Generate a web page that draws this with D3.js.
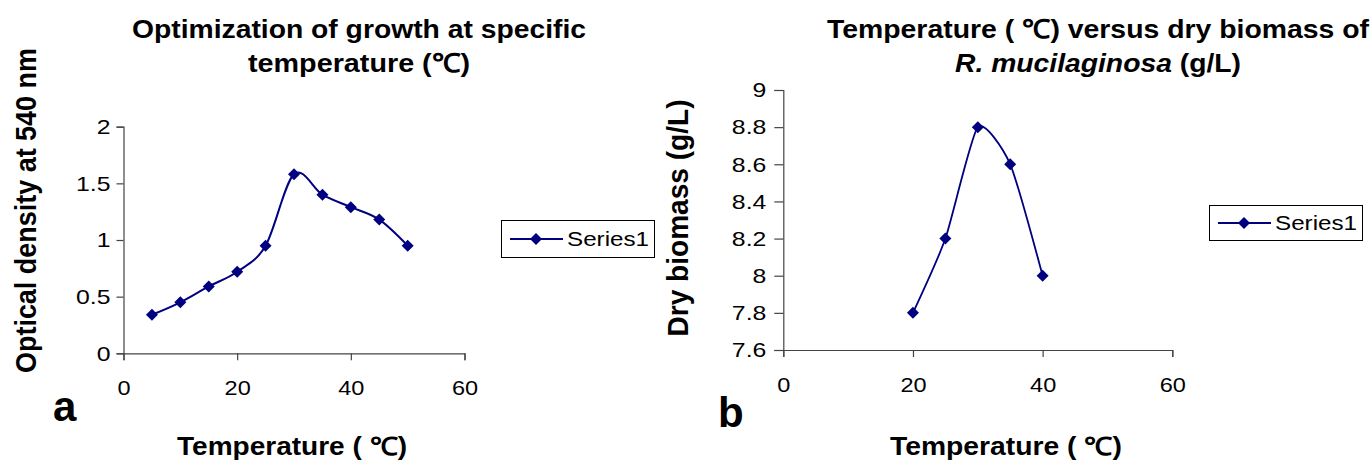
<!DOCTYPE html>
<html>
<head>
<meta charset="utf-8">
<script src="https://cdn.jsdelivr.net/npm/d3@7"></script>
<style>
  html, body { margin: 0; padding: 0; background: #fff; }
  svg { display: block; }
  text { font-family: "Liberation Sans", Arial, sans-serif; fill: #000; }
</style>
</head>
<body>
<svg id="chart" width="1372" height="462"></svg>
<script>
// ---------------- DATA ----------------
const tempA = [5, 10, 15, 20, 25, 30, 35, 40, 45, 50];
const odA = [0.34, 0.45, 0.59, 0.72, 0.95, 1.58, 1.40, 1.29, 1.18, 0.95];
const tempB = [20, 25, 30, 35, 40];
const biomassB = [7.8, 8.2, 8.8, 8.6, 8.0];
const xTickValues = [0, 20, 40, 60];
const xTickLabels = ["0", "20", "40", "60"];
const yTickValuesA = [0, 0.5, 1, 1.5, 2];
const yTickLabelsA = ["0", "0.5", "1", "1.5", "2"];
const yTickValuesB = [7.6, 7.8, 8, 8.2, 8.4, 8.6, 8.8, 9];
const yTickLabelsB = ["7.6", "7.8", "8", "8.2", "8.4", "8.6", "8.8", "9"];
const seriesName = "Series1";
const titleA = ["Optimization of growth at specific", "temperature (\u2103)"];
const titleB1 = "Temperature ( \u2103) versus dry biomass of";
const titleB2Italic = "R. mucilaginosa";
const titleB2Rest = " (g/L)";
const xLabel = "Temperature ( \u2103)";
const yLabelA = "Optical density at 540 nm";
const yLabelB = "Dry biomass (g/L)";

// ---------------- HELPERS ----------------
const svg = d3.select("#chart");
const NAVY = "#000080";

function fit(sel, len) {
  sel.attr("textLength", len).attr("lengthAdjust", "spacingAndGlyphs");
}
function stretch(sel, k) {
  sel.each(function () {
    const w = this.getComputedTextLength();
    this.setAttribute("textLength", w * k);
    this.setAttribute("lengthAdjust", "spacingAndGlyphs");
  });
}

function panel(cfg) {
  const g = svg.append("g");
  const x = d3.scaleLinear().domain([0, 60]).range(cfg.xRange);
  const y = d3.scaleLinear().domain(cfg.yDomain).range(cfg.yRange);

  // axes
  const xAxis = d3.axisBottom(x).tickValues(xTickValues)
    .tickFormat((d, i) => xTickLabels[i]).tickSizeOuter(0)
    .tickSize(7).tickPadding(20);
  const gx = g.append("g").attr("transform", `translate(0,${cfg.yRange[0]})`).call(xAxis);
  const yAxis = d3.axisLeft(y).tickValues(cfg.yTicks)
    .tickFormat((d, i) => cfg.yLabels[i]).tickSizeOuter(0)
    .tickSize(cfg.yTickSize).tickPadding(cfg.yTickPad);
  const gy = g.append("g").attr("transform", `translate(${cfg.xRange[0]},0)`).call(yAxis);
  [gx, gy].forEach(a => {
    a.select(".domain").attr("stroke", "#444").attr("stroke-width", 1.2);
    a.selectAll(".tick line").attr("stroke", "#444").attr("stroke-width", 1.2);
    a.selectAll("text").attr("font-size", 21).attr("fill", "#000")
      .attr("font-family", "Liberation Sans, Arial, sans-serif");
  });
  stretch(gx.selectAll("text"), 1.12);
  stretch(gy.selectAll("text"), 1.18);

  // line
  const pts = cfg.xs.map((d, i) => [d, cfg.ys[i]]);
  const line = d3.line().x(d => x(d[0])).y(d => y(d[1])).curve(cfg.curve);
  g.append("path").datum(pts).attr("d", line).attr("fill", "none")
    .attr("stroke", NAVY).attr("stroke-width", cfg.lineWidth);

  const sym = d3.symbol().type(d3.symbolSquare).size(72);
  g.selectAll("path.mk").data(pts).join("path").attr("class", "mk")
    .attr("d", sym())
    .attr("transform", d => `translate(${x(d[0])},${y(d[1])}) rotate(45)`)
    .attr("fill", NAVY);

  // legend
  const L = cfg.legend;
  const lg = g.append("g").attr("transform", `translate(${L.x},${L.y})`);
  lg.append("rect").attr("x", 0.5).attr("y", 0.5).attr("width", L.w).attr("height", L.h)
    .attr("fill", "#fff").attr("stroke", "#000").attr("stroke-width", 1);
  const cy = L.h / 2 + 0.5;
  lg.append("line").attr("x1", 9).attr("x2", 62).attr("y1", cy).attr("y2", cy)
    .attr("stroke", NAVY).attr("stroke-width", 2);
  lg.append("path").attr("d", sym()).attr("transform", `translate(35,${cy}) rotate(45)`).attr("fill", NAVY);
  const lt = lg.append("text").attr("x", 66).attr("y", cy).attr("dy", "0.35em")
    .attr("font-size", 21).text(seriesName);
  fit(lt, 82);

  return g;
}

// ---------------- PANEL A ----------------
panel({
  xRange: [123.5, 464.5], yDomain: [0, 2], yRange: [353.3, 126.7],
  yTicks: yTickValuesA, yLabels: yTickLabelsA, yTickSize: 7, yTickPad: 6,
  xs: tempA, ys: odA, lineWidth: 2, curve: d3.curveCatmullRom.alpha(0),
  legend: { x: 501, y: 220, w: 153, h: 37 }
});

// ---------------- PANEL B ----------------
panel({
  xRange: [783.3, 1172.3], yDomain: [7.6, 9], yRange: [350, 90],
  yTicks: yTickValuesB, yLabels: yTickLabelsB, yTickSize: 9, yTickPad: 8,
  xs: tempB, ys: biomassB, lineWidth: 1.8, curve: d3.curveCardinal.tension(0.4),
  legend: { x: 1209, y: 205, w: 153, h: 35 }
});

// ---------------- TEXTS ----------------
function addText(x, y, str, size, anchor) {
  return svg.append("text").attr("x", x).attr("y", y).attr("font-size", size)
    .attr("font-weight", "bold").attr("text-anchor", anchor || "middle").text(str);
}
// titles
fit(addText(359, 38, titleA[0], 26), 454);
fit(addText(359, 72, titleA[1], 26), 222);
fit(addText(1098, 38, titleB1, 26), 542);
const tb2 = svg.append("text").attr("x", 1098).attr("y", 72).attr("font-size", 26)
  .attr("font-weight", "bold").attr("text-anchor", "middle");
tb2.append("tspan").attr("font-style", "italic").text(titleB2Italic);
tb2.append("tspan").text(titleB2Rest);
fit(tb2, 286);

// x labels
fit(addText(292, 455, xLabel, 25), 230);
fit(addText(1006, 455, xLabel, 25), 232);

// y labels
const yla = svg.append("text").attr("transform", "translate(35.5,210.5) rotate(-90)")
  .attr("text-anchor", "middle").attr("font-size", 29).attr("font-weight", "bold")
  .text(yLabelA);
fit(yla, 325);
const ylb = svg.append("text").attr("transform", "translate(688,218) rotate(-90)")
  .attr("text-anchor", "middle").attr("font-size", 30).attr("font-weight", "bold").text(yLabelB);
fit(ylb, 237);

// panel letters
addText(53, 421, "a", 42, "start");
addText(718, 427, "b", 42, "start");
</script>
</body>
</html>
